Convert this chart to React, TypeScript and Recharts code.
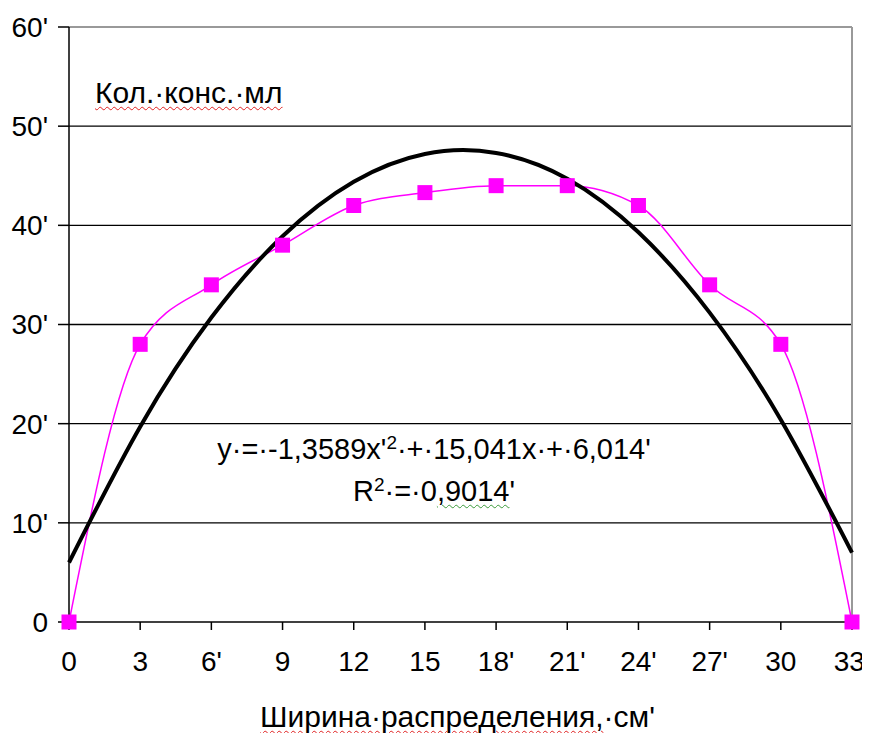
import React from "react";
import { LineChart, Line, XAxis, YAxis, CartesianGrid, ReferenceLine } from "recharts";

const widths = [0, 3, 6, 9, 12, 15, 18, 21, 24, 27, 30, 33];
const concentration = [0, 28, 34, 38, 42, 43.3, 44, 44, 42, 34, 28, 0];
const trend = [6.0, 19.7, 30.7, 38.9, 44.4, 47.2, 47.3, 44.7, 39.3, 31.2, 20.4, 7.0];
const xTickLabels = ["0", "3", "6'", "9", "12", "15", "18'", "21'", "24'", "27'", "30", "33'"];
const yTicks = [0, 10, 20, 30, 40, 50, 60];
const yTickLabels = ["0", "10'", "20'", "30'", "40'", "50'", "60'"];
const gridValues = [10, 20, 30, 40, 50];

const data = widths.map((w, i) => ({ w, c: concentration[i], t: trend[i] }));

const FONT = "'Liberation Sans', Arial, sans-serif";

const Square = (props: any) => {
  const { cx, cy, index } = props;
  if (cx == null || cy == null) return null;
  return <rect key={"sq" + index} x={cx - 7.5} y={cy - 7.5} width={15} height={15} fill="#FF00FF" />;
};

const wavyRed: React.CSSProperties = {
  textDecorationLine: "underline",
  textDecorationStyle: "wavy",
  textDecorationColor: "#e02020",
  textDecorationThickness: "1px",
  textUnderlineOffset: "3px",
};
const wavyGreen: React.CSSProperties = { ...wavyRed, textDecorationColor: "#3a9a3a" };

export default function App() {
  return (
    <div style={{ position: "relative", width: 862, height: 725, fontFamily: FONT, color: "#000" }}>
      <LineChart width={862} height={725} data={data} margin={{ top: 19, right: 18, left: 0, bottom: 51 }}>
        <CartesianGrid vertical={false} horizontalValues={gridValues} stroke="#000" strokeWidth={1.3} />
        <ReferenceLine y={60} stroke="#999" strokeWidth={2} />
        <ReferenceLine x={33} stroke="#999" strokeWidth={2} />
        <XAxis
          type="number"
          dataKey="w"
          domain={[0, 33]}
          ticks={widths}
          interval={0}
          tickFormatter={(v: number) => xTickLabels[widths.indexOf(v)]}
          height={60}
          tickSize={8}
          tickMargin={21}
          axisLine={{ stroke: "#000", strokeWidth: 1.5 }}
          tickLine={{ stroke: "#000", strokeWidth: 1.5 }}
          tick={{ fill: "#000", fontSize: 28, fontFamily: FONT }}
        />
        <YAxis
          type="number"
          domain={[0, 60]}
          ticks={yTicks}
          interval={0}
          tickFormatter={(v: number) => yTickLabels[yTicks.indexOf(v)]}
          width={61}
          tickSize={11}
          tickMargin={10}
          axisLine={{ stroke: "#000", strokeWidth: 1.5 }}
          tickLine={{ stroke: "#000", strokeWidth: 1.5 }}
          tick={{ fill: "#000", fontSize: 28, fontFamily: FONT }}
        />
        <Line
          dataKey="c"
          type="monotone"
          stroke="#FF00FF"
          strokeWidth={1.5}
          dot={Square}
          activeDot={false}
          isAnimationActive={false}
        />
        <Line
          dataKey="t"
          type="natural"
          stroke="#000"
          strokeWidth={4}
          dot={false}
          activeDot={false}
          isAnimationActive={false}
        />
      </LineChart>
      <div style={{ position: "absolute", left: 87, top: 70, fontSize: 30, lineHeight: "30px", whiteSpace: "nowrap" }}>
        <span style={wavyRed}>Кол.·конс.·мл</span>
      </div>
      <div
        style={{
          position: "absolute",
          left: 0,
          width: 852,
          top: 417,
          fontSize: 29,
          lineHeight: "35px",
          textAlign: "center",
          whiteSpace: "nowrap",
        }}
      >
        <div>
          y·=·-1,3589x'<sup style={{ fontSize: 19, verticalAlign: "10px" }}>2</sup>·+·15,041x·+·6,014'
        </div>
        <div>
          R<sup style={{ fontSize: 19, verticalAlign: "10px" }}>2</sup>·=·0<span style={wavyGreen}>,9014</span>'
        </div>
      </div>
      <div
        style={{
          position: "absolute",
          left: 252,
          top: 694,
          fontSize: 30,
          lineHeight: "30px",
          whiteSpace: "nowrap",
        }}
      >
        <span style={wavyRed}>Ширина·распределения,</span>·см'
      </div>
    </div>
  );
}
